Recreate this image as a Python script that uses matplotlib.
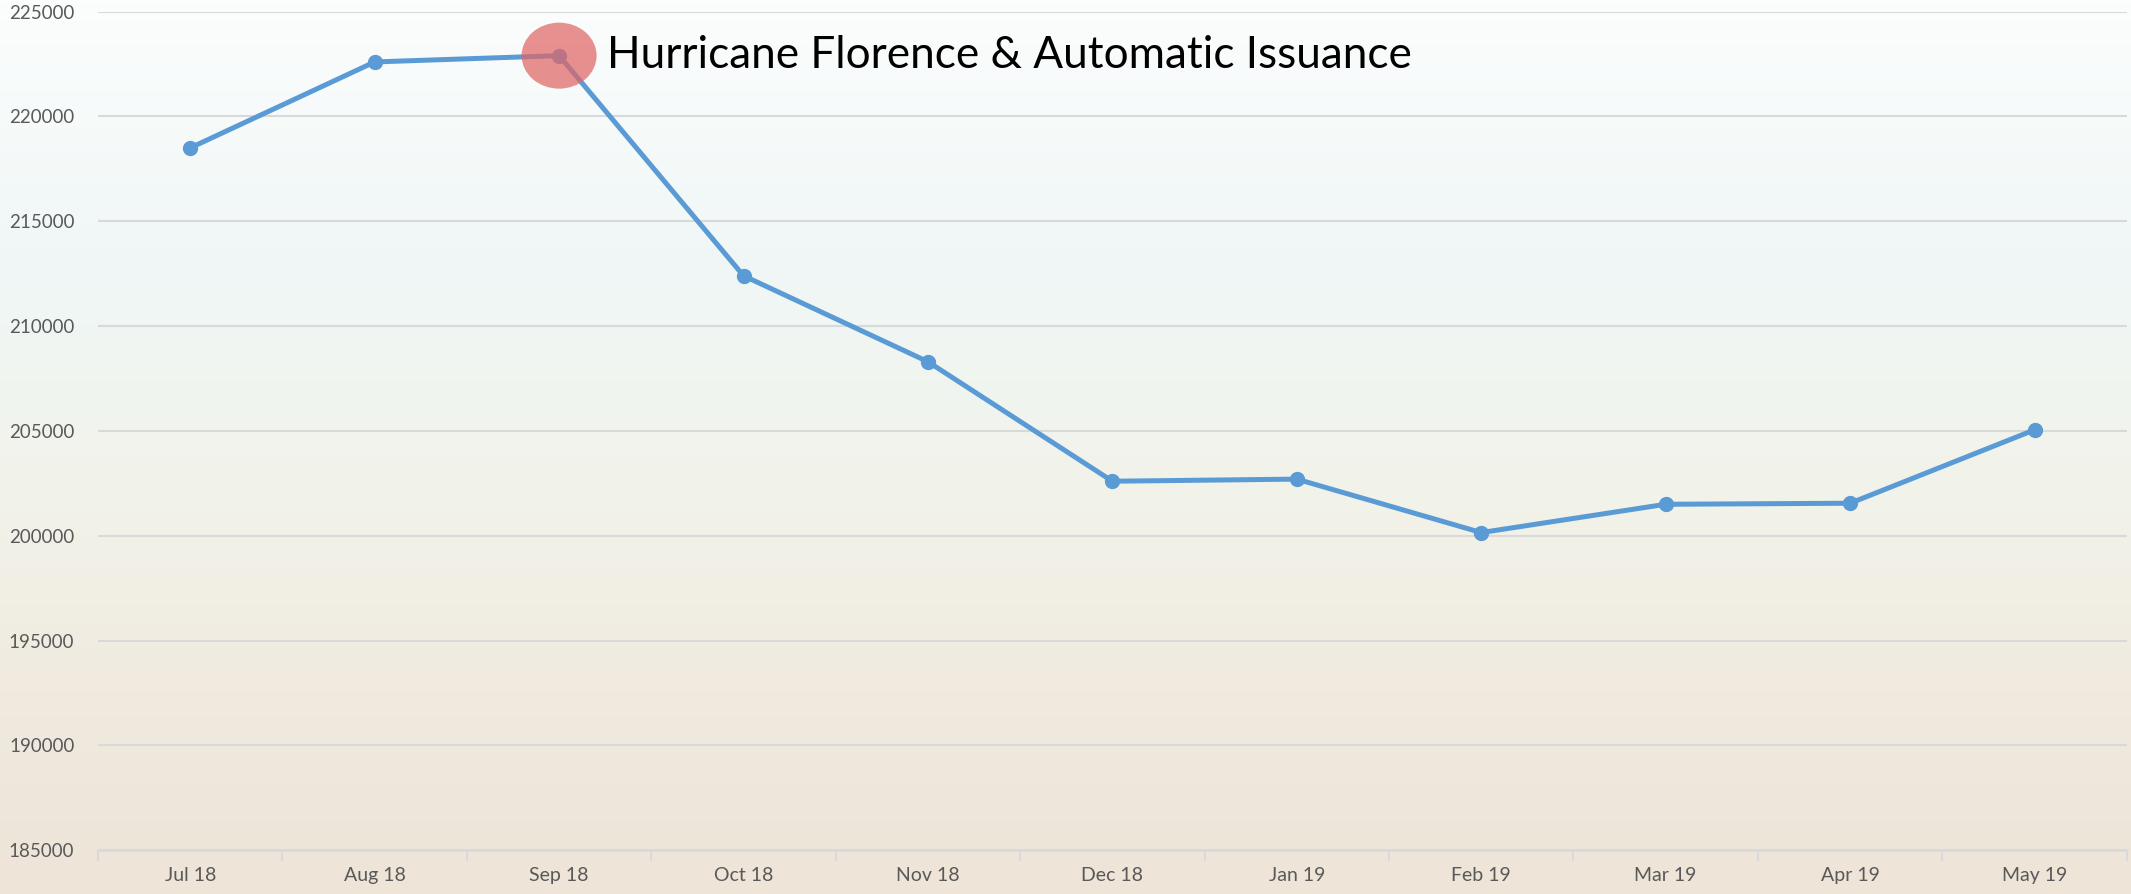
import numpy as np
import matplotlib.pyplot as plt
from matplotlib.colors import LinearSegmentedColormap
from matplotlib.patches import Ellipse

# Data
months = ['Jul 18', 'Aug 18', 'Sep 18', 'Oct 18', 'Nov 18', 'Dec 18',
          'Jan 19', 'Feb 19', 'Mar 19', 'Apr 19', 'May 19']
counts = [218500, 222600, 222900, 212400, 208300, 202600,
          202700, 200150, 201500, 201550, 205050]
yticks = [185000, 190000, 195000, 200000, 205000, 210000, 215000, 220000, 225000]
note = 'Hurricane Florence & Automatic Issuance'
note_idx = 2

plt.rcParams['font.family'] = ['Lato', 'DejaVu Sans']

fig = plt.figure(figsize=(21.31, 8.94), dpi=100)

# soft gradient background
bg = fig.add_axes([0, 0, 1, 1], zorder=-1)
cmap = LinearSegmentedColormap.from_list('bg', [
    (0.0, '#fcfdfd'), (0.3, '#eff7f6'), (0.55, '#f2f3ea'),
    (0.8, '#f0e9de'), (1.0, '#eee4d8')])
grad = np.linspace(0, 1, 256).reshape(-1, 1)
bg.imshow(grad, aspect='auto', cmap=cmap, extent=[0, 1, 1, 0])
bg.set_xlim(0, 1)
bg.set_ylim(1, 0)
bg.axis('off')

ax = fig.add_axes([0.046, 0.049, 0.952, 0.938])
ax.set_facecolor('none')

x = np.arange(len(months))
ax.plot(x, counts, color='#5b9bd5', lw=3.6, marker='o', ms=10,
        solid_joinstyle='round', zorder=3)

ax.set_xlim(-0.5, len(months) - 0.5)
ax.set_ylim(yticks[0], yticks[-1])
ax.set_yticks(yticks)
ax.set_yticklabels([str(v) for v in yticks])
ax.set_xticks(x)
ax.set_xticklabels(months)
ax.set_xticks(np.arange(-0.5, len(months)), minor=True)

ax.tick_params(axis='y', length=0, pad=17, labelsize=13.5, labelcolor='#595959')
ax.tick_params(axis='x', which='major', length=0, pad=12, labelsize=14,
               labelcolor='#595959')
ax.tick_params(axis='x', which='minor', length=8, width=1.4, color='#d9d9d9')

ax.grid(axis='y', color='#d9d9d9', lw=1.5, zorder=0)
ax.set_axisbelow(True)
for s in ['top', 'right', 'left']:
    ax.spines[s].set_visible(False)
ax.spines['bottom'].set_color('#d9d9d9')
ax.spines['bottom'].set_linewidth(1.8)

# highlight on the hurricane month
ell = Ellipse((0, 0), 75, 66, transform=None, color='#e06666', alpha=0.72,
              lw=0, zorder=4)
px, py = ax.transData.transform((x[note_idx], counts[note_idx]))
ell.set_center((px, py))
fig.add_artist(ell)
ax.annotate(note, (x[note_idx], counts[note_idx]), xytext=(48, 0),
            textcoords='offset pixels', va='center', ha='left',
            fontsize=31.8, color='black', zorder=5)

fig.savefig('out.png', dpi=100)
